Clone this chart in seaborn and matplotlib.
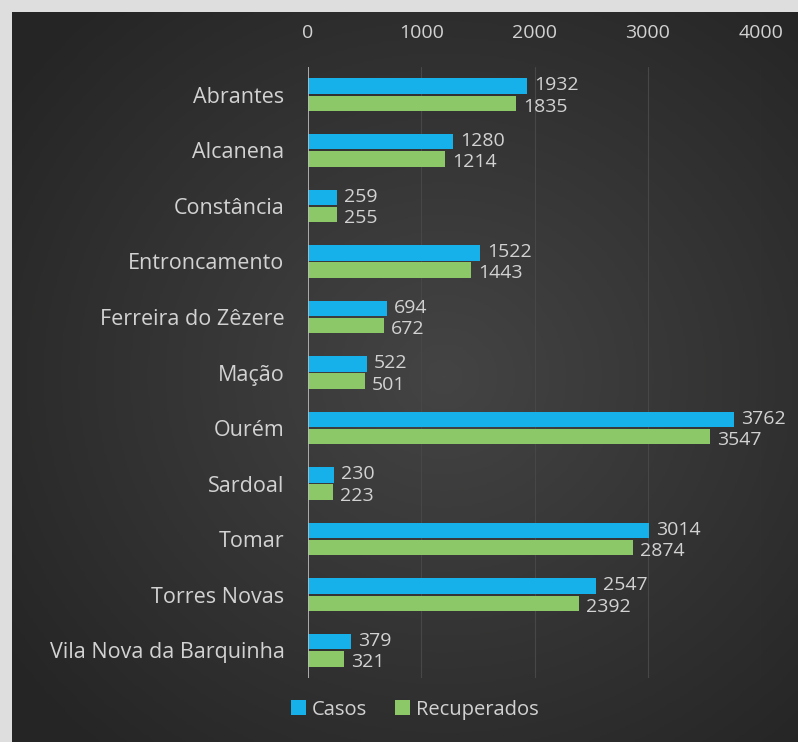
import numpy as np
import pandas as pd
import matplotlib.pyplot as plt
import seaborn as sns

# Data
municipios = ["Abrantes", "Alcanena", "Constância", "Entroncamento", "Ferreira do Zêzere",
              "Mação", "Ourém", "Sardoal", "Tomar", "Torres Novas", "Vila Nova da Barquinha"]
casos = [1932, 1280, 259, 1522, 694, 522, 3762, 230, 3014, 2547, 379]
recuperados = [1835, 1214, 255, 1443, 672, 501, 3547, 223, 2874, 2392, 321]
xticks = [0, 1000, 2000, 3000, 4000]

df = pd.DataFrame({
    "Concelho": municipios * 2,
    "Valor": casos + recuperados,
    "Serie": ["Casos"] * len(casos) + ["Recuperados"] * len(recuperados),
})

sns.set_style("dark")
plt.rcParams['font.family'] = ['Open Sans', 'DejaVu Sans']
txt = "#d2d2d2"

W, H = 798, 742
fig = plt.figure(figsize=(W / 100, H / 100), dpi=100, facecolor="#dedede")

# dark radial-gradient background panel
bg = fig.add_axes([12 / W, 0, 1 - 12 / W, 1 - 12 / H])
yy, xx = np.mgrid[0:1:300j, 0:1:300j]
r = np.sqrt(((xx - 0.55) / 0.9) ** 2 + ((yy - 0.5) / 0.9) ** 2)
bg.imshow(r, cmap=sns.dark_palette("#444444", reverse=True, as_cmap=True),
          vmin=0, vmax=0.75, aspect="auto", extent=[0, 1, 0, 1])
bg.set_axis_off()

ax = fig.add_axes([308 / W, 1 - 678 / H, (761 - 308) / W, (678 - 67) / H])
ax.set_facecolor("none")
sns.barplot(data=df, y="Concelho", x="Valor", hue="Serie", orient="h",
            palette=["#16b1ea", "#8cc868"], width=0.62, gap=0.1,
            saturation=1, linewidth=0, ax=ax)

# value labels: Casos nudged up a little, Recuperados nudged down
for cont, dy in zip(ax.containers, [0.5, -2.5]):
    labs = ax.bar_label(cont, padding=5, color=txt, fontsize=14)
    for t in labs:
        t.set_va("center")
        t.xyann = (t.xyann[0], dy)

ax.set_xlim(0, 4000)
ax.set_xticks(xticks)
ax.xaxis.tick_top()
ax.tick_params(axis="x", colors=txt, labelsize=14, length=0, pad=18)
ax.tick_params(axis="y", colors=txt, labelsize=15.5, length=0, pad=17)
ax.set_xlabel("")
ax.set_ylabel("")
ax.grid(axis="x", color="#474747", linewidth=0.8)
ax.grid(axis="y", visible=False)
for s in ax.spines.values():
    s.set_visible(False)
ax.axvline(0, color="#bdbdbd", linewidth=1.2)

leg = ax.legend(loc="center", bbox_to_anchor=(0.236, -0.052), ncol=2,
                frameon=False, fontsize=14.5, handlelength=0.75, handleheight=0.75,
                columnspacing=1.4, handletextpad=0.3)
for t in leg.get_texts():
    t.set_color(txt)

fig.savefig("out.png", dpi=100, facecolor=fig.get_facecolor())
